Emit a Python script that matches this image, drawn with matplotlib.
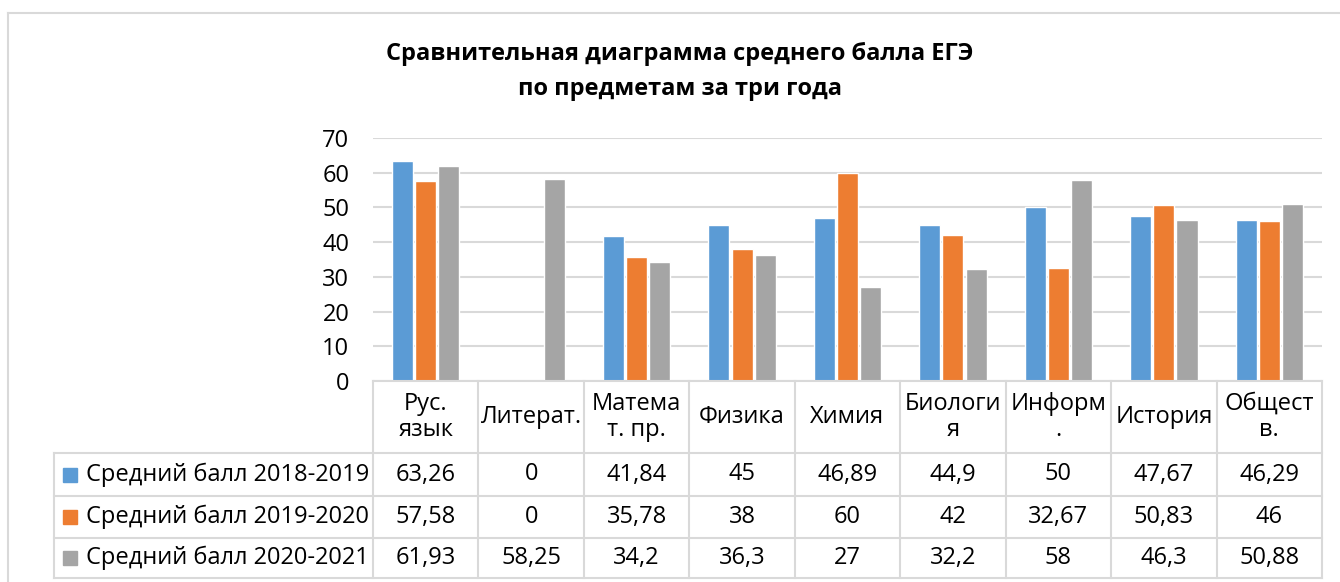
import matplotlib.pyplot as plt
import matplotlib.transforms as mtransforms
from matplotlib.lines import Line2D
from matplotlib.patches import Rectangle

# data
subjects = ["Рус.\nязык", "Литерат.", "Матема\nт. пр.", "Физика", "Химия",
            "Биологи\nя", "Информ\n.", "История", "Общест\nв."]
series_names = ["Средний балл 2018-2019", "Средний балл 2019-2020", "Средний балл 2020-2021"]
score_2018_2019 = [63.26, 0, 41.84, 45, 46.89, 44.9, 50, 47.67, 46.29]
score_2019_2020 = [57.58, 0, 35.78, 38, 60, 42, 32.67, 50.83, 46]
score_2020_2021 = [61.93, 58.25, 34.2, 36.3, 27, 32.2, 58, 46.3, 50.88]
series = [score_2018_2019, score_2019_2020, score_2020_2021]
colors = ["#5b9bd5", "#ed7d31", "#a5a5a5"]
title_lines = ["Сравнительная диаграмма среднего балла ЕГЭ", "по предметам за три года"]

GRID = "#d9d9d9"
W, H = 1340, 582

plt.rcParams['font.family'] = ['Open Sans', 'DejaVu Sans']


def fx(x):
    return x / W


def fy(y):
    return 1 - y / H


fig = plt.figure(figsize=(W / 100, H / 100), dpi=100)

ax = fig.add_axes([fx(373), fy(381), 949 / W, 243 / H])
ax.set_xlim(-0.5, len(subjects) - 0.5)
ax.set_ylim(0, 70)
for s in ax.spines.values():
    s.set_visible(False)
ax.set_yticks(range(0, 71, 10))
ax.tick_params(axis='y', length=0, pad=17, labelsize=17)
ax.set_xticks([])
ax.grid(axis='y', color=GRID, lw=1.5)
ax.set_axisbelow(True)

offsets = [-0.22, 0, 0.22]
xs = list(range(len(subjects)))
for vals, col, off in zip(series, colors, offsets):
    ax.bar([x + off for x in xs], vals, width=0.2, color=col,
           edgecolor='white', linewidth=1, zorder=2)

# title
fig.text(fx(680), fy(54), title_lines[0], ha='center', va='center',
         fontsize=17, fontweight='bold')
fig.text(fx(680), fy(89), title_lines[1], ha='center', va='center',
         fontsize=17, fontweight='bold')

# chart border
fig.add_artist(Line2D([fx(8), fx(8)], [0, fy(13)], color=GRID, lw=1.5))
fig.add_artist(Line2D([fx(8), 1], [fy(13), fy(13)], color=GRID, lw=1.5))

# data table
trans = mtransforms.blended_transform_factory(ax.transData, fig.transFigure)
rows_y = [381, 453, 496, 538, 578]
n = len(subjects)
for i in range(n + 1):
    fig.add_artist(Line2D([i - 0.5, i - 0.5], [fy(381), fy(578)],
                          transform=trans, color=GRID, lw=1.5, zorder=5))
fig.add_artist(Line2D([fx(54), fx(54)], [fy(453), fy(578)], color=GRID, lw=1.5, zorder=5))
fig.add_artist(Line2D([-0.5, n - 0.5], [fy(381), fy(381)],
                      transform=trans, color=GRID, lw=1.5, zorder=5))
for y in rows_y[1:]:
    fig.add_artist(Line2D([fx(54), fx(1322)], [fy(y), fy(y)], color=GRID, lw=1.5, zorder=5))

hy = (rows_y[0] + rows_y[1]) / 2
for i, lab in enumerate(subjects):
    fig.text(i, fy(hy), lab, transform=trans, ha='center', va='center',
             fontsize=17, linespacing=1.15)

for r, (name, vals, col) in enumerate(zip(series_names, series, colors)):
    cy = (rows_y[r + 1] + rows_y[r + 2]) / 2
    fig.add_artist(Rectangle((fx(63), fy(cy + 7)), 14 / W, 14 / H, color=col, zorder=6))
    fig.text(fx(86), fy(cy), name, ha='left', va='center', fontsize=17)
    for i, v in enumerate(vals):
        fig.text(i, fy(cy), f"{v:g}".replace('.', ','), transform=trans,
                 ha='center', va='center', fontsize=17)

fig.savefig("out.png", dpi=100)
